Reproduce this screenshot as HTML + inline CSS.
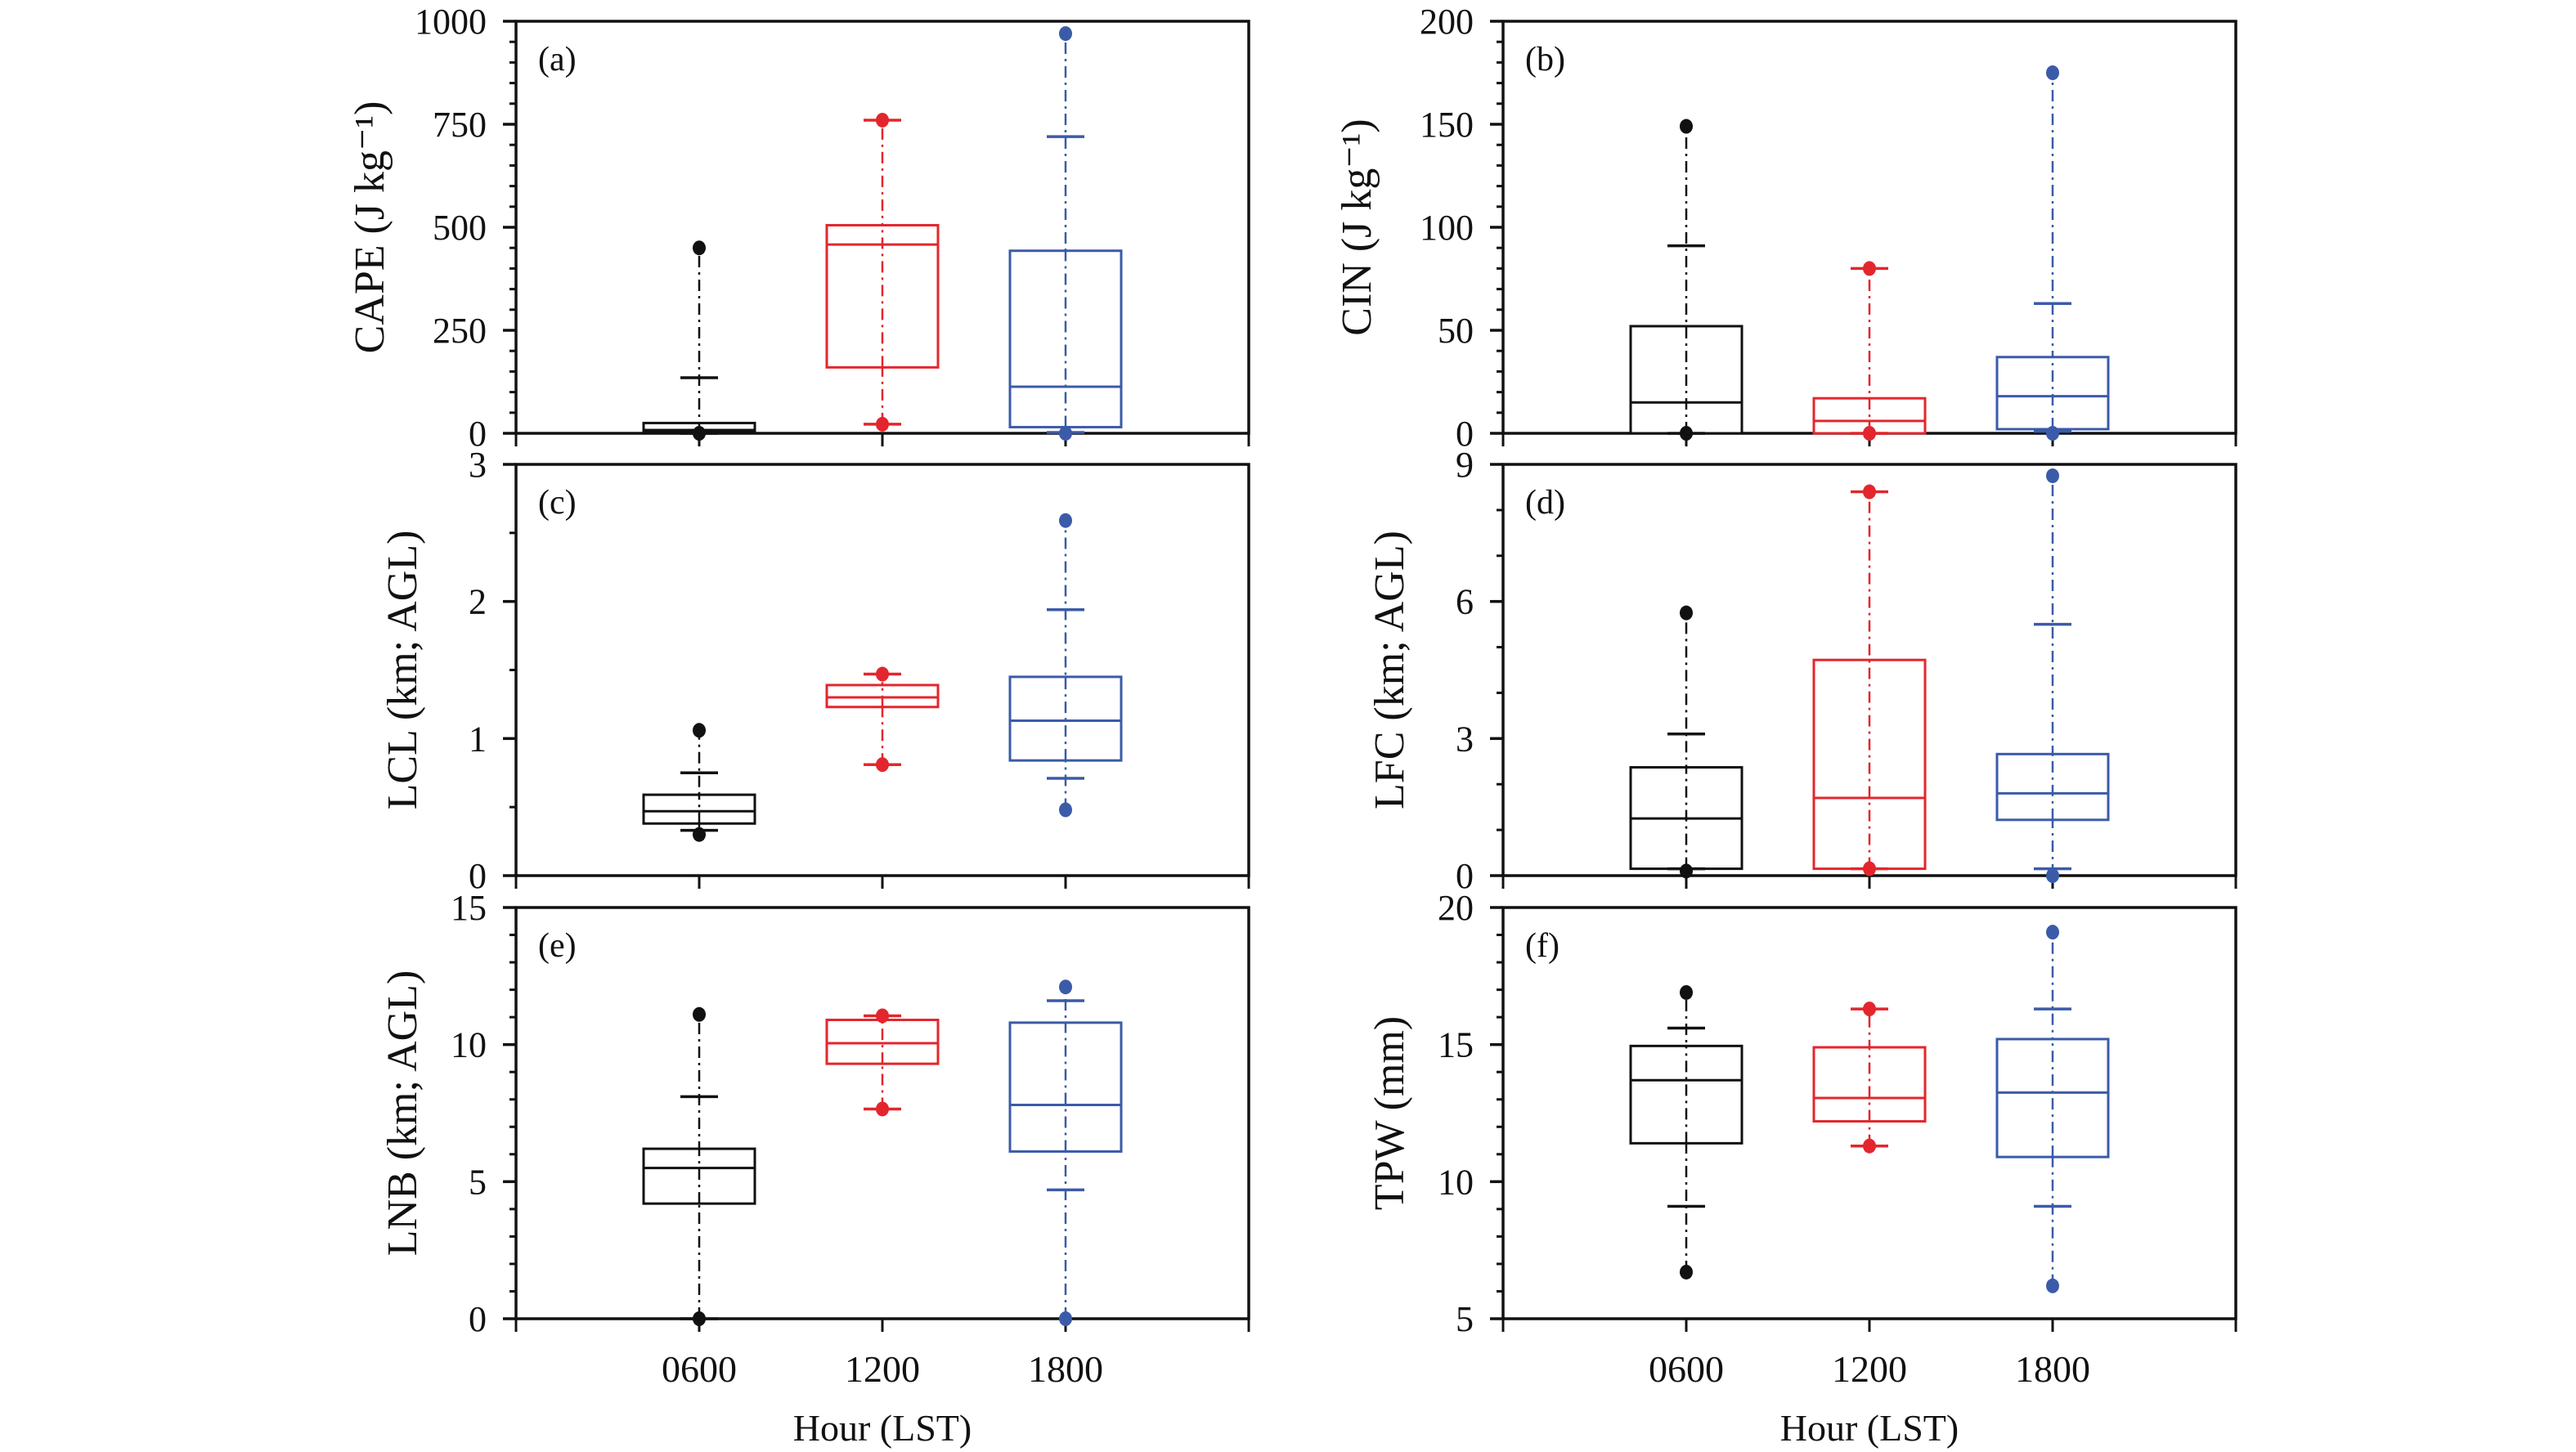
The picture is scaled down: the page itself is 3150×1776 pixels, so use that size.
<!DOCTYPE html>
<html><head><meta charset="utf-8"><style>
html,body{margin:0;padding:0;background:#fff;}
svg{display:block;font-family:"Liberation Serif",serif;}
</style></head><body>
<svg id="fig" width="3150" height="1776" viewBox="0 0 3150 1776" xmlns="http://www.w3.org/2000/svg"></svg>
<script>
const categories = ["0600","1200","1800"];
const colors = ["#111111","#e3262d","#3b5ba9"];
const panelLetters = ["(a)","(b)","(c)","(d)","(e)","(f)"];
const yTitles = ["CAPE (J kg\u207B\u00B9)","CIN (J kg\u207B\u00B9)","LCL (km; AGL)","LFC (km; AGL)","LNB (km; AGL)","TPW (mm)"];
const yMins = [0,0,0,0,0,5];
const yMaxs = [1000,200,3,9,15,20];
const yMajors = [[0,250,500,750,1000],[0,50,100,150,200],[0,1,2,3],[0,3,6,9],[0,5,10,15],[5,10,15,20]];
const yMinorSteps = [50,10,0.5,1,1,1];
// per panel, per category: [min, p10, q1, median, q3, p90, max]
const statsA = [[0,0,5,8,25,135,450],[22,22,160,458,505,760,760],[0,2,15,113,443,720,970]];
const statsB = [[0,0,0,15,52,91,149],[0,0,0,6,17,80,80],[0,1,2,18,37,63,175]];
const statsC = [[0.30,0.33,0.38,0.47,0.59,0.75,1.06],[0.81,0.81,1.23,1.30,1.39,1.47,1.47],[0.48,0.71,0.84,1.13,1.45,1.94,2.59]];
const statsD = [[0.1,0.15,0.15,1.25,2.37,3.1,5.75],[0.15,0.15,0.15,1.7,4.72,8.4,8.4],[0,0.15,1.22,1.8,2.66,5.5,8.75]];
const statsE = [[0,0,4.2,5.5,6.2,8.1,11.1],[7.65,7.65,9.3,10.05,10.9,11.05,11.05],[0,4.7,6.1,7.8,10.8,11.6,12.1]];
const statsF = [[6.7,9.1,11.4,13.7,14.95,15.6,16.9],[11.3,11.3,12.2,13.05,14.9,16.3,16.3],[6.2,9.1,10.9,13.25,15.2,16.3,19.1]];
const allStats = [statsA,statsB,statsC,statsD,statsE,statsF];

const NS="http://www.w3.org/2000/svg";
const svg=document.getElementById('fig');
function mk(tag,attrs,parent){const e=document.createElementNS(NS,tag);for(const k in attrs)e.setAttribute(k,attrs[k]);(parent||svg).appendChild(e);return e;}
const colX=[[631,1527],[1838,2734]];
const rowY=[[26,530],[568,1071],[1110,1613]];
for(let p=0;p<6;p++){
  const c=p%2,r=Math.floor(p/2);
  const x0=colX[c][0],x1=colX[c][1],yt=rowY[r][0],yb=rowY[r][1];
  const g=mk('g',{});
  
  
  const ys=v=>yb-(v-yMins[p])/(yMaxs[p]-yMins[p])*(yb-yt);
  const xs=i=>x0+(x1-x0)*(i+1)/4;
  const fr=mk('rect',{x:x0,y:yt,width:x1-x0,height:yb-yt,fill:'none',stroke:'#111',"stroke-width":3.5},g);
  
  
  const st=yMinorSteps[p];
  for(let v=yMins[p];v<=yMaxs[p]+1e-9;v+=st){
    mk('line',{x1:x0-8,x2:x0,y1:ys(v),y2:ys(v),stroke:'#111',"stroke-width":3},g);
  }
  yMajors[p].forEach(v=>{
    mk('line',{x1:x0-16,x2:x0,y1:ys(v),y2:ys(v),stroke:'#111',"stroke-width":3.5},g);
    const t=mk('text',{x:x0-36,y:ys(v)+15,"text-anchor":"end","font-size":44,fill:'#111'},g);
    t.textContent=v;
    
    
  });
  for(let i=0;i<5;i++){
    const xx=x0+(x1-x0)*i/4;
    mk('line',{x1:xx,x2:xx,y1:yb,y2:yb+16,stroke:'#111',"stroke-width":3},g);
  }
  if(r===2){
    categories.forEach((cat,i)=>{
      const t=mk('text',{x:xs(i),y:1690,"text-anchor":"middle","font-size":46,fill:'#111'},g);
      t.textContent=cat;
      
      
    });
    const xt=mk('text',{x:(x0+x1)/2,y:1762,"text-anchor":"middle","font-size":46,fill:'#111'},g);
    xt.textContent='Hour (LST)';
    
    
  }
  const pl=mk('text',{x:x0+27,y:yt+60,"font-size":42,fill:'#111'},g);
  pl.textContent=panelLetters[p];
  
  
  const ty=(yt+yb)/2;
  const tx=x0-(yMaxs[p]>=100?162:122);
  const yt2=mk('text',{x:tx,y:ty,"text-anchor":"middle","font-size":52,fill:'#111',transform:`rotate(-90 ${tx} ${ty})`},g);
  yt2.textContent=yTitles[p];
  
  
  allStats[p].forEach((s,i)=>{
    const col=colors[i],cx=xs(i),hw=68,cw=23;
    const bg=mk('g',{},g);
    
    
    mk('line',{x1:cx,x2:cx,y1:ys(s[0]),y2:ys(s[6]),stroke:col,"stroke-width":2.5,"stroke-dasharray":"14 6 3 6"},bg);
    mk('rect',{x:cx-hw,y:ys(s[4]),width:2*hw,height:Math.max(ys(s[2])-ys(s[4]),0.5),fill:'#fff',stroke:col,"stroke-width":3},bg);
    mk('line',{x1:cx,x2:cx,y1:ys(s[2]),y2:ys(s[4]),stroke:col,"stroke-width":2.5,"stroke-dasharray":"14 6 3 6"},bg);
    mk('line',{x1:cx-hw,x2:cx+hw,y1:ys(s[3]),y2:ys(s[3]),stroke:col,"stroke-width":3},bg);
    [s[1],s[5]].forEach(v=>mk('line',{x1:cx-cw,x2:cx+cw,y1:ys(v),y2:ys(v),stroke:col,"stroke-width":3.5},bg));
    [s[0],s[6]].forEach(v=>mk('ellipse',{cx:cx,cy:ys(v),rx:8,ry:9,fill:col},bg));
  });
}
</script>
</body></html>
